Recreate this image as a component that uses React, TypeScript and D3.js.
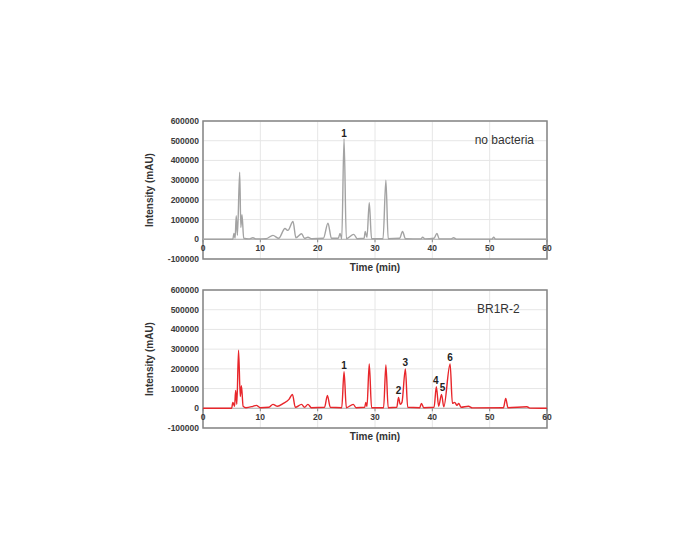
import * as d3 from "d3";

// chromatogram traces, [time (min), intensity (mAU)]
const controlTrace: [number, number][] = [
  [0, 0], [5.2, 0], [5.4, 30000], [5.6, 5000], [5.8, 120000], [6.0, 20000], [6.4, 340000],
  [6.6, 60000], [6.8, 125000], [7.1, 5000], [8.0, 2000], [8.7, 8000], [9.3, 2000], [11, 3000],
  [12.2, 20000], [13.2, 5000], [14.3, 55000], [14.8, 45000], [15.7, 90000], [16.2, 8000],
  [17.2, 28000], [17.7, 5000], [18.3, 10000], [19, 3000], [21, 5000], [21.8, 82000], [22.4, 5000],
  [23.6, 5000], [23.9, 30000], [24.2, 3000], [24.6, 510000], [25.0, 3000], [26.3, 25000],
  [26.9, 3000], [28.1, 5000], [28.3, 40000], [28.6, 10000], [29.0, 185000], [29.4, 3000],
  [31.4, 3000], [31.9, 300000], [32.3, 3000], [34.3, 5000], [34.8, 40000], [35.3, 3000],
  [38.0, 2000], [38.3, 10000], [38.7, 2000], [40.3, 5000], [40.8, 30000], [41.2, 2000],
  [43.3, 2000], [43.7, 8000], [44.2, 1000], [50.4, 1000], [50.7, 10000], [51, 1000], [60, 0],
];

const bacteriaTrace: [number, number][] = [
  [0, 0], [5.0, 0], [5.2, 30000], [5.5, 10000], [5.7, 90000], [5.9, 20000], [6.2, 295000],
  [6.5, 60000], [6.7, 115000], [7.0, 10000], [7.5, 3000], [8.7, 10000], [9.3, 15000], [10, 3000],
  [11.5, 5000], [12.2, 20000], [13, 10000], [14, 25000], [15, 45000], [15.6, 70000], [16.1, 5000],
  [17.2, 20000], [17.7, 5000], [18.3, 20000], [18.9, 3000], [21.2, 5000], [21.7, 65000],
  [22.2, 5000], [24.2, 3000], [24.6, 185000], [25.0, 3000], [26.2, 20000], [26.7, 3000],
  [28.2, 5000], [28.4, 30000], [28.6, 10000], [29.0, 225000], [29.4, 3000], [31.5, 3000],
  [31.9, 220000], [32.3, 3000], [33.8, 5000], [34.1, 55000], [34.4, 20000], [34.7, 30000],
  [35.3, 200000], [35.7, 5000], [37.8, 3000], [38.1, 25000], [38.5, 3000], [40.3, 5000],
  [40.7, 110000], [41.1, 10000], [41.6, 70000], [42.0, 8000], [43.1, 225000], [43.5, 25000],
  [43.9, 30000], [44.3, 15000], [44.6, 25000], [45.0, 5000], [46.3, 10000], [47, 2000],
  [52.4, 3000], [52.8, 50000], [53.2, 3000], [56.5, 8000], [57, 1000], [60, 0],
];

// peak numbers: [label, time, y position]
const controlLabels: [string, number, number][] = [["1", 24.6, 520000]];
const bacteriaLabels: [string, number, number][] = [
  ["1", 24.6, 200000], ["2", 34.1, 70000], ["3", 35.3, 215000],
  ["4", 40.6, 125000], ["5", 41.8, 90000], ["6", 43.1, 240000],
];

const xTicks = [0, 10, 20, 30, 40, 50, 60];
const yTicks = [-100000, 0, 100000, 200000, 300000, 400000, 500000, 600000];

const LEFT = 203;
const RIGHT = 547;
const PANEL_H = 138;
const FONT = "Arial, 'Liberation Sans', sans-serif";

type PanelProps = {
  top: number;
  data: [number, number][];
  labels: [string, number, number][];
  color: string;
  title: string;
  titleX: number;
  titleAnchor: "start" | "end";
};

const Panel = ({ top, data, labels, color, title, titleX, titleAnchor }: PanelProps) => {
  const x = d3.scaleLinear().domain([0, 60]).range([LEFT, RIGHT]);
  const y = d3.scaleLinear().domain([-100000, 600000]).range([top + PANEL_H, top]);
  const line = d3
    .line<[number, number]>()
    .x((d) => x(d[0]))
    .y((d) => y(d[1]))
    .curve(d3.curveMonotoneX);

  return (
    <g>
      {/* grid */}
      {xTicks.map((t) => (
        <line key={"gx" + t} x1={x(t)} x2={x(t)} y1={top} y2={top + PANEL_H} stroke="#e6e6e6" strokeWidth={1} />
      ))}
      {yTicks.map((t) => (
        <line key={"gy" + t} x1={LEFT} x2={RIGHT} y1={y(t)} y2={y(t)} stroke="#e6e6e6" strokeWidth={1} />
      ))}
      <rect x={LEFT} y={top} width={RIGHT - LEFT} height={PANEL_H} fill="none" stroke="#858585" strokeWidth={1.5} />
      {/* zero axis */}
      <line x1={LEFT} x2={RIGHT} y1={y(0)} y2={y(0)} stroke="#b0b0b0" strokeWidth={1} />
      {xTicks.map((t) => (
        <line key={"tx" + t} x1={x(t)} x2={x(t)} y1={y(0)} y2={y(0) + 3} stroke="#888" strokeWidth={1} />
      ))}
      {yTicks.map((t) => (
        <text key={"ly" + t} x={LEFT - 4} y={y(t)} dy="0.35em" textAnchor="end" fontSize={8.5} fontWeight="bold" fill="#3a3a3a" fontFamily={FONT}>
          {t}
        </text>
      ))}
      {xTicks.map((t) => (
        <text key={"lx" + t} x={x(t)} y={y(0) + 12} textAnchor="middle" fontSize={8.5} fontWeight="bold" fill="#3a3a3a" fontFamily={FONT}>
          {t}
        </text>
      ))}
      <path d={line(data) ?? ""} fill="none" stroke={color} strokeWidth={1.4} strokeLinejoin="round" />
      {labels.map(([l, t, v]) => (
        <text key={"pk" + l} x={x(t)} y={y(v)} textAnchor="middle" fontSize={10} fontWeight="bold" fill="#222" fontFamily={FONT}>
          {l}
        </text>
      ))}
      <text x={titleX} y={top + 23} textAnchor={titleAnchor} fontSize={12} fill="#333" fontFamily={FONT}>
        {title}
      </text>
      <text x={(LEFT + RIGHT) / 2} y={top + PANEL_H + 12} textAnchor="middle" fontSize={10} fontWeight="bold" fill="#333" fontFamily={FONT}>
        Time (min)
      </text>
      <text
        transform={`translate(153,${top + PANEL_H / 2}) rotate(-90)`}
        textAnchor="middle"
        fontSize={10}
        fontWeight="bold"
        fill="#333"
        fontFamily={FONT}
      >
        Intensity (mAU)
      </text>
    </g>
  );
};

export default function App() {
  return (
    <svg width={700} height={560} style={{ position: "absolute", left: 0, top: 0, background: "#fff" }}>
      <Panel top={121} data={controlTrace} labels={controlLabels} color="#a3a3a3" title="no bacteria" titleX={534} titleAnchor="end" />
      <Panel top={290} data={bacteriaTrace} labels={bacteriaLabels} color="#e8262b" title="BR1R-2" titleX={477} titleAnchor="start" />
    </svg>
  );
}
